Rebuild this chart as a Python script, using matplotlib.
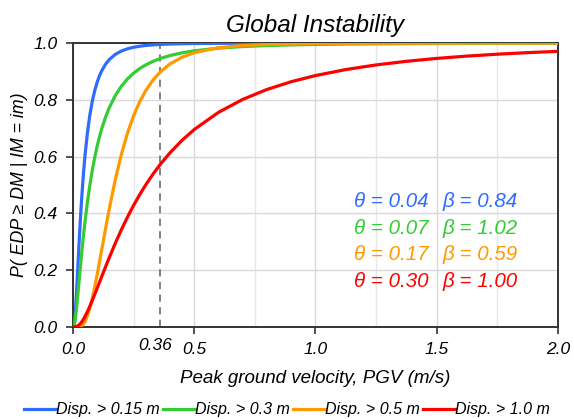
import matplotlib.pyplot as plt
from matplotlib.ticker import MultipleLocator, FormatStrFormatter

plt.rcParams['font.family'] = ['Liberation Sans', 'DejaVu Sans']
plt.rcParams['font.style'] = 'italic'

# PGV values (m/s) and exceedance probabilities
pgv = [0, 0.0025, 0.005, 0.0075, 0.01, 0.015, 0.02, 0.025, 0.03, 0.035, 0.04, 0.045,
       0.05, 0.06, 0.07, 0.08, 0.09, 0.10, 0.11, 0.12, 0.135, 0.15, 0.175, 0.2, 0.225,
       0.25, 0.275, 0.3, 0.33, 0.36, 0.4, 0.45, 0.5, 0.6, 0.7, 0.8, 0.9, 1.0, 1.125,
       1.25, 1.375, 1.5, 1.625, 1.75, 1.875, 2.0]

p_015 = [0, 0.0005, 0.0067, 0.0231, 0.0495, 0.1215, 0.2047, 0.2879, 0.366, 0.4368, 0.5, 0.5558,
         0.6047, 0.6854, 0.7474, 0.7953, 0.8328, 0.8623, 0.8858, 0.9045, 0.9262, 0.9422, 0.9605,
         0.9723, 0.9801, 0.9854, 0.9891, 0.9918, 0.994, 0.9955, 0.9969, 0.998, 0.9987, 0.9994,
         0.9997, 0.9998, 0.9999, 1.0, 1.0, 1.0, 1.0, 1.0, 1.0, 1.0, 1.0, 1.0]
p_03 = [0, 0.0005, 0.0048, 0.0143, 0.0282, 0.0655, 0.1097, 0.1564, 0.2031, 0.2484, 0.2916, 0.3325,
        0.3707, 0.44, 0.5, 0.5521, 0.5973, 0.6367, 0.6712, 0.7014, 0.7402, 0.7725, 0.8155,
        0.8483, 0.8739, 0.894, 0.9101, 0.9232, 0.9358, 0.9458, 0.9563, 0.9659, 0.973, 0.9824,
        0.988, 0.9915, 0.9939, 0.9954, 0.9968, 0.9976, 0.9982, 0.9987, 0.999, 0.9992, 0.9994, 0.9995]
p_05 = [0, 0, 0, 0, 0, 0, 0.0001, 0.0006, 0.0016, 0.0037, 0.0071, 0.0121,
        0.019, 0.0388, 0.0663, 0.1007, 0.1405, 0.1842, 0.2303, 0.2775, 0.348, 0.416, 0.5196,
        0.6085, 0.6826, 0.7434, 0.7925, 0.8322, 0.8696, 0.8983, 0.9265, 0.9505, 0.9663, 0.9837,
        0.9918, 0.9957, 0.9976, 0.9987, 0.9993, 0.9996, 0.9998, 0.9999, 1.0, 1.0, 1.0, 1.0]
p_10 = [0, 0, 0.00002, 0.0001, 0.0003, 0.0014, 0.0034, 0.0065, 0.0107, 0.0158, 0.022, 0.0289,
        0.0366, 0.0538, 0.0728, 0.0931, 0.1143, 0.136, 0.1579, 0.1798, 0.2123, 0.2441, 0.2949,
        0.3426, 0.3868, 0.4277, 0.4653, 0.5, 0.538, 0.5723, 0.6132, 0.6574, 0.6953, 0.7559,
        0.8016, 0.8367, 0.864, 0.8857, 0.9069, 0.9232, 0.936, 0.9462, 0.9544, 0.9611, 0.9666, 0.9711]

labels = ['Disp. > 0.15 m', 'Disp. > 0.3 m', 'Disp. > 0.5 m', 'Disp. > 1.0 m']
colors = ['#2f6bff', '#33cc33', '#ff9900', '#ff0000']
thetas = ['0.04', '0.07', '0.17', '0.30']
betas = ['0.84', '1.02', '0.59', '1.00']
pgv_mark = 0.36

fig = plt.figure(figsize=(5.74, 4.19), dpi=100)
ax = fig.add_axes([0.127, 0.220, 0.845, 0.677])

for y, lab, c in zip([p_015, p_03, p_05, p_10], labels, colors):
    ax.plot(pgv, y, color=c, lw=2.3, label=lab, zorder=3, solid_joinstyle='round')

ax.plot([pgv_mark, pgv_mark], [0, 1], color='#777777', lw=1.3, ls=(0, (4, 3)), zorder=2)

ax.set_xlim(0, 2)
ax.set_ylim(0, 1)
ax.xaxis.set_major_locator(MultipleLocator(0.5))
ax.xaxis.set_minor_locator(MultipleLocator(0.25))
ax.yaxis.set_major_locator(MultipleLocator(0.2))
ax.xaxis.set_major_formatter(FormatStrFormatter('%.1f'))
ax.yaxis.set_major_formatter(FormatStrFormatter('%.1f'))
ax.grid(which='major', color='#d9d9d9', lw=1.0, zorder=0)
ax.grid(which='minor', axis='x', color='#e8e8e8', lw=1.0, zorder=0)
ax.tick_params(which='major', direction='out', length=5, width=1.2, labelsize=12.5,
               color='#333333', pad=6)
ax.tick_params(which='minor', length=0)
for s in ax.spines.values():
    s.set_color('#333333')
    s.set_linewidth(1.4)

ax.text(pgv_mark - 0.02, -0.04, '0.36', ha='center', va='top', fontsize=12.5,
        family='Liberation Sans', fontstyle='italic', color='black')

ax.set_title('Global Instability', fontsize=17.5, pad=8)
ax.set_xlabel('Peak ground velocity, PGV (m/s)', fontsize=13.5, labelpad=9)
ax.set_ylabel('P( EDP ≥ DM | IM = im)', fontsize=12.8, labelpad=4)

for i, (th, be, c) in enumerate(zip(thetas, betas, colors)):
    yy = 0.442 - i * 0.094
    ax.text(1.465, yy, 'θ = ' + th, color=c, fontsize=14.8, ha='right', va='center')
    ax.text(1.525, yy, 'β = ' + be, color=c, fontsize=14.8, ha='left', va='center')

fig.legend(loc='lower center', bbox_to_anchor=(0.5, -0.03), ncol=4, frameon=False,
           fontsize=11.5, handlelength=2.0, handletextpad=0.05, columnspacing=0.15)

fig.savefig('out.png', dpi=100)
